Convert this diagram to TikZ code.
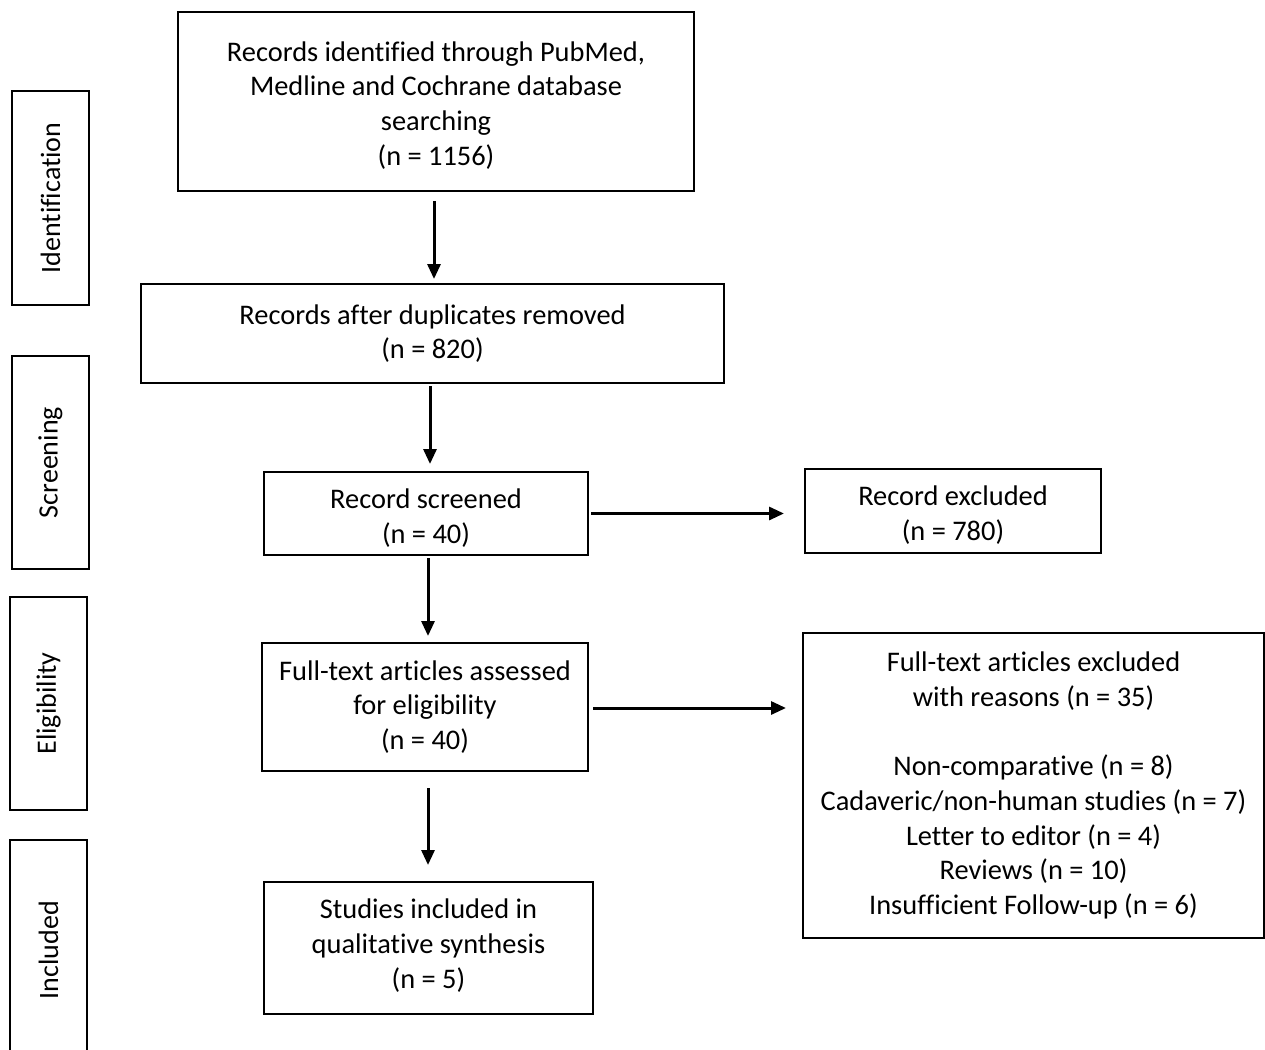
\documentclass[tikz,border=0pt]{standalone}
\usepackage{fontspec}
\setmainfont{Carlito}[Ligatures=NoCommon]
\usetikzlibrary{arrows.meta}
\newcommand\tup[1]{\rule{0pt}{#1}}
\begin{document}
\begin{tikzpicture}[x=0.5pt,y=-0.5pt,
  box/.style={draw, line width=1pt, inner sep=0pt, align=center,
    font=\fontsize{14.2pt}{17.35pt}\selectfont},
  side/.style={draw, line width=1pt, inner sep=0pt, minimum width=38.5pt,
    font=\fontsize{14pt}{17.3pt}\selectfont},
  arr/.style={line width=1.5pt, -{Triangle[length=7.5pt,width=6.5pt]}}]
\useasboundingbox (0,0) rectangle (1265,1050);
\clip (0,0) rectangle (1265,1050);
\fill[white] (0,0) rectangle (1265,1050);
% side labels
\node[side, minimum height=107pt] (s1) at (50.5,198) {\rotatebox{90}{Identification}};
\node[side, minimum height=106.5pt] (s2) at (50.5,462.5) {\rotatebox{90}{Screening}};
\node[side, minimum height=106.5pt] (s3) at (48.5,703.5) {\rotatebox{90}{Eligibility}};
\node[side, minimum height=110pt] (s4) at (48.5,950) {\rotatebox{90}{Included}};
% boxes
\node[box, minimum width=258pt, minimum height=89.5pt] (b1) at (436,101.5)
  {\tup{13.8pt}Records identified through PubMed,\\Medline and Cochrane database\\searching\\(n = 1156)};
\node[box, minimum width=291.5pt, minimum height=49.5pt] (b2) at (432.5,333.5)
  {Records after duplicates removed\\(n = 820)};
\node[box, minimum width=162pt, minimum height=41.5pt] (b3) at (426,513.5)
  {\tup{14.8pt}Record screened\\(n = 40)};
\node[box, minimum width=148pt, minimum height=42pt] (b4) at (953,511)
  {\tup{14.3pt}Record excluded\\(n = 780)};
\node[box, minimum width=163pt, minimum height=64pt] (b5) at (425,707)
  {Full-text articles assessed\\for eligibility\\(n = 40)};
\node[box, minimum width=230.5pt, minimum height=152.5pt] (b6) at (1033.5,785.5)
  {Full-text articles excluded\\with reasons (n = 35)\\[17.35pt]Non-comparative (n = 8)\\Cadaveric/non-human studies (n = 7)\\Letter to editor (n = 4)\\Reviews (n = 10)\\Insufficient Follow-up (n = 6)};
\node[box, minimum width=164.5pt, minimum height=66pt] (b7) at (428.5,948)
  {Studies included in\\qualitative synthesis\\(n = 5)\rule[-4.5pt]{0pt}{0pt}};
% arrows
\draw[arr, shorten <=4.5pt, shorten >=2pt] ([xshift=-1pt]b1.south) -- ([xshift=-1pt]b1.south |- b2.north);
\draw[arr, shorten <=1pt, shorten >=3.5pt] ([xshift=-1.25pt]b2.south) -- ([xshift=-1.25pt]b2.south |- b3.north);
\draw[arr, shorten <=1pt, shorten >=3pt] ([xshift=1pt]b3.south) -- ([xshift=1pt]b3.south |- b5.north);
\draw[arr, shorten <=8pt, shorten >=8pt] ([xshift=-0.25pt]b7.north |- b5.south) -- ([xshift=-0.25pt]b7.north);
\draw[arr, shorten <=1pt, shorten >=10pt] (b3.east) -- (b3.east -| b4.west);
\draw[arr, shorten <=2pt, shorten >=8pt] ([yshift=-0.5pt]b5.east) -- ([yshift=-0.5pt]b5.east -| b6.west);
\end{tikzpicture}
\end{document}
